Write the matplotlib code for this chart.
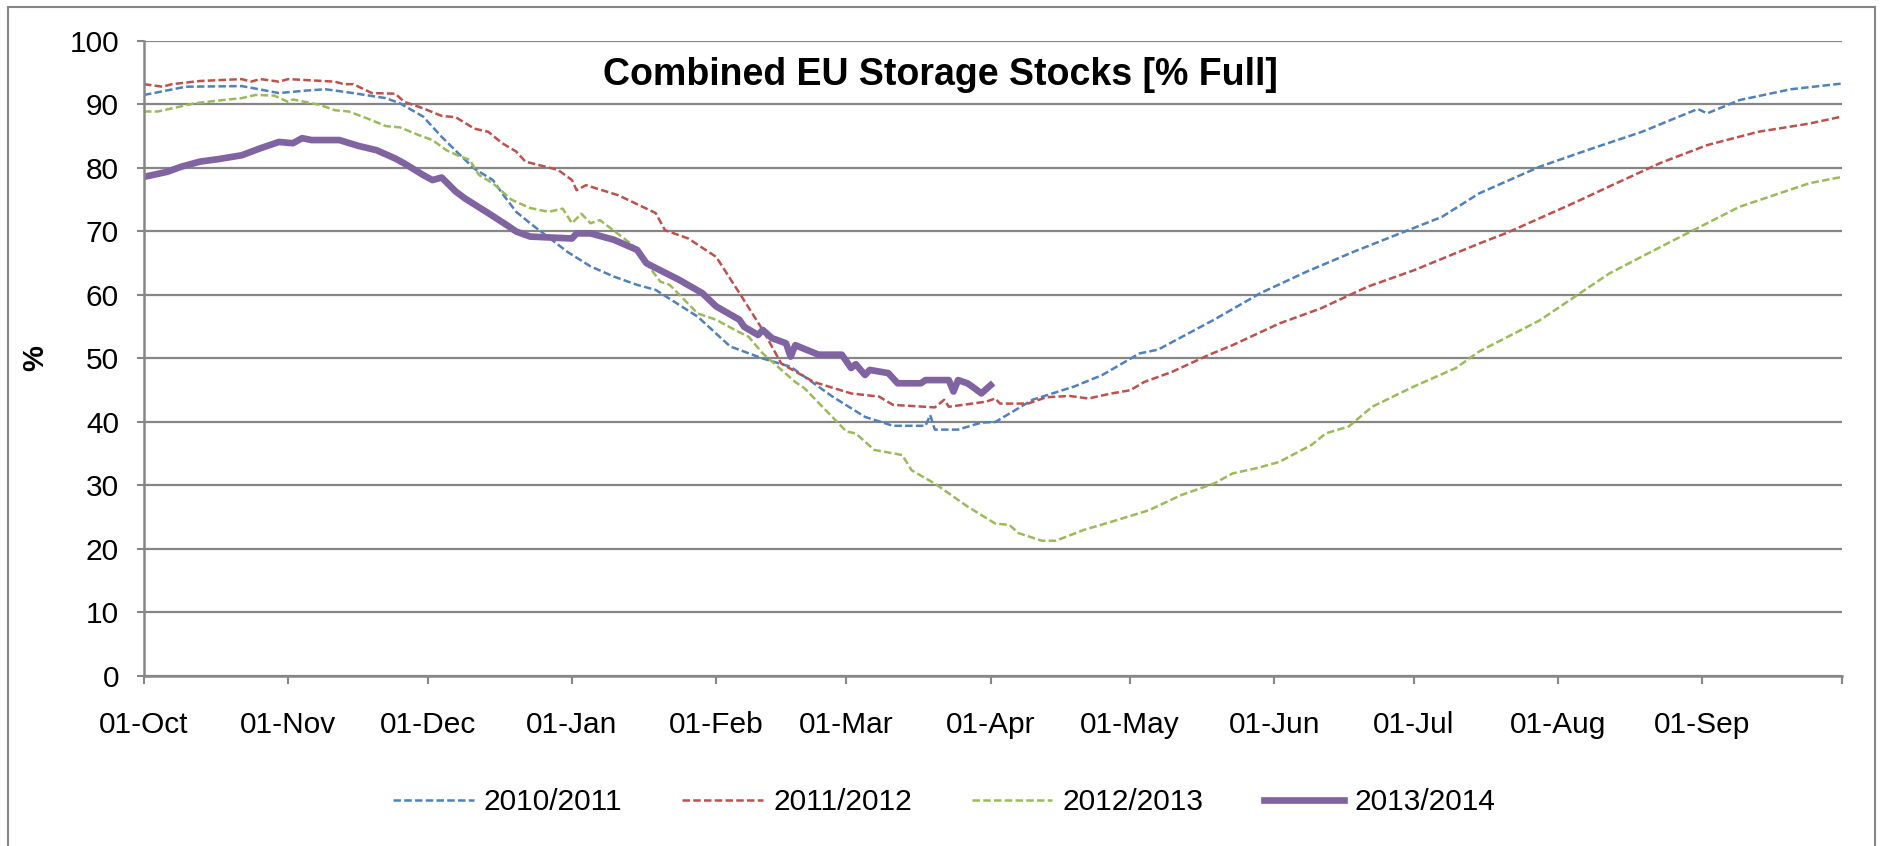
import matplotlib
matplotlib.use("Agg")
import matplotlib.pyplot as plt
from matplotlib.patches import Rectangle

plt.rcParams['font.family'] = ['Liberation Sans', 'DejaVu Sans']

# month axis (days counted from 01-Oct)
month_days = [0, 31, 61, 92, 123, 151, 182, 212, 243, 273, 304, 335]
month_labels = ['01-Oct', '01-Nov', '01-Dec', '01-Jan', '01-Feb', '01-Mar',
                '01-Apr', '01-May', '01-Jun', '01-Jul', '01-Aug', '01-Sep']
season_end = 365

# 2010/2011
days_1011 = [0, 9, 21, 24, 29, 35, 39, 44, 52, 55, 60, 64, 68, 71, 75, 77, 80, 83, 91, 96,
             101, 106, 110, 119, 126, 133, 139, 148, 155, 161, 168, 169, 170, 175, 180, 183,
             191, 200, 206, 214, 218, 230, 240, 250, 260, 270, 279, 287, 300, 311, 322, 334,
             336, 343, 354, 365]
vals_1011 = [91.5, 92.8, 92.9, 92.5, 91.8, 92.2, 92.4, 91.9, 91.0, 90.2, 88.1, 84.9, 82.0, 79.9,
             78.1, 76.0, 73.1, 71.3, 66.8, 64.5, 62.9, 61.6, 60.8, 56.6, 51.9, 50.0, 48.7, 44.0,
             40.8, 39.4, 39.4, 41.1, 38.8, 38.8, 39.9, 40.0, 43.5, 45.6, 47.4, 50.8, 51.4, 56.1,
             60.3, 63.7, 66.8, 69.7, 72.3, 76.0, 80.2, 83.0, 85.7, 89.3, 88.6, 90.7, 92.4, 93.3]

# 2011/2012
days_1112 = [0, 4, 6, 12, 21, 23, 25, 29, 31, 41, 43, 45, 49, 54, 56, 60, 64, 67, 71, 74,
             77, 80, 82, 89, 92, 93, 95, 102, 110, 112, 117, 123, 128, 133, 137, 144, 152, 158,
             161, 170, 172, 173, 181, 183, 184, 190, 194, 199, 203, 208, 212, 215, 221, 229,
             234, 244, 253, 263, 273, 280, 287, 293, 308, 315, 326, 336, 347, 358, 365]
vals_1112 = [93.2, 92.8, 93.2, 93.7, 94.0, 93.6, 94.0, 93.6, 94.0, 93.6, 93.2, 93.2, 91.8, 91.7,
             90.4, 89.4, 88.2, 88.0, 86.2, 85.7, 83.9, 82.6, 81.0, 79.7, 78.1, 76.5, 77.3, 75.7,
             72.9, 70.2, 68.9, 66.0, 60.3, 54.5, 49.2, 46.3, 44.5, 44.0, 42.7, 42.3, 43.5, 42.4,
             43.2, 43.7, 42.9, 42.9, 43.9, 44.1, 43.7, 44.5, 45.0, 46.3, 47.9, 50.6, 52.1, 55.5,
             57.9, 61.3, 63.9, 66.0, 68.1, 69.8, 74.7, 77.1, 80.8, 83.6, 85.7, 87.0, 88.1]

# 2012/2013
days_1213 = [0, 3, 11, 17, 21, 24, 28, 31, 32, 38, 41, 44, 48, 52, 55, 59, 62, 65, 68, 70,
             72, 75, 79, 83, 87, 90, 92, 94, 96, 98, 105, 111, 113, 119, 123, 127, 130, 133,
             140, 142, 151, 153, 157, 163, 165, 170, 177, 183, 186, 188, 193, 196, 202, 208,
             216, 223, 230, 234, 239, 244, 251, 254, 259, 264, 273, 282, 287, 300, 315, 329,
             343, 358, 365]
vals_1213 = [88.9, 88.9, 90.2, 90.7, 91.0, 91.5, 91.4, 90.4, 90.8, 89.9, 89.1, 88.9, 87.8, 86.6,
             86.4, 85.2, 84.4, 82.8, 81.8, 81.3, 78.9, 77.6, 75.0, 73.7, 73.1, 73.6, 71.3, 72.8,
             71.3, 71.8, 67.9, 62.1, 61.6, 57.1, 56.1, 54.5, 53.4, 50.8, 46.3, 45.3, 38.5, 38.2,
             35.6, 34.8, 32.4, 30.3, 26.7, 24.0, 23.8, 22.5, 21.3, 21.3, 23.0, 24.3, 26.1, 28.5,
             30.3, 31.9, 32.7, 33.7, 36.4, 38.2, 39.3, 42.4, 45.6, 48.5, 51.1, 56.0, 63.4, 68.7,
             73.9, 77.6, 78.6]

# 2013/2014
days_1314 = [0, 5, 8, 12, 16, 21, 25, 29, 32, 34, 36, 42, 46, 50, 54, 56, 60, 62, 64, 67,
             69, 74, 78, 80, 83, 92, 93, 96, 101, 106, 108, 115, 120, 123, 128, 129, 132, 133,
             135, 138, 139, 140, 145, 150, 152, 153, 155, 156, 160, 162, 167, 168, 173, 174,
             175, 177, 178, 180, 182]
vals_1314 = [78.6, 79.4, 80.2, 81.0, 81.4, 82.0, 83.1, 84.1, 83.9, 84.7, 84.4, 84.4, 83.5, 82.8,
             81.5, 80.7, 78.9, 78.1, 78.5, 76.3, 75.2, 72.9, 71.0, 70.0, 69.2, 68.9, 69.7, 69.7,
             68.7, 67.1, 65.0, 62.4, 60.3, 58.2, 56.1, 55.0, 53.7, 54.5, 53.2, 52.4, 50.3, 52.1,
             50.6, 50.6, 48.5, 49.1, 47.4, 48.2, 47.7, 46.1, 46.1, 46.6, 46.6, 44.8, 46.6, 46.1,
             45.6, 44.5, 45.8]

grey = '#868686'

fig = plt.figure(figsize=(18.81, 8.46), dpi=100)
fig.patches.append(Rectangle((0.004, -0.01), 0.993, 1.002, transform=fig.transFigure,
                             fill=False, edgecolor=grey, linewidth=1.5))

ax = fig.add_axes([0.07655, 0.20095, 0.90271, 0.75059])

ax.plot(days_1011, vals_1011, color='#4F81BD', lw=1.8, dashes=(3.0, 1.3), label='2010/2011')
ax.plot(days_1112, vals_1112, color='#C0504D', lw=1.8, dashes=(3.0, 1.3), label='2011/2012')
ax.plot(days_1213, vals_1213, color='#9BBB59', lw=1.8, dashes=(3.0, 1.3), label='2012/2013')
ax.plot(days_1314, vals_1314, color='#8064A2', lw=4.8, solid_joinstyle='round', label='2013/2014')

ax.set_xlim(0, season_end)
ax.set_ylim(0, 100)
ax.set_yticks(range(0, 101, 10))
ax.set_xticks(month_days + [season_end])
ax.set_xticklabels(month_labels + [''])

ax.grid(axis='y', color=grey, lw=1.6)
ax.set_axisbelow(True)
for side in ['top', 'right']:
    ax.spines[side].set_visible(False)
for side in ['left', 'bottom']:
    ax.spines[side].set_color(grey)
    ax.spines[side].set_linewidth(1.8)

ax.tick_params(axis='y', length=5, width=1.5, color=grey, pad=13, labelsize=21.5)
ax.tick_params(axis='x', length=6, width=1.5, color=grey, pad=19, labelsize=21.5)

fig.text(0.5, 0.911, 'Combined EU Storage Stocks [% Full]', ha='center', va='center',
         fontsize=27, fontweight='bold')
fig.text(0.019, 0.5768, '%', rotation=90, ha='center', va='center', fontsize=21,
         fontweight='bold')

fig.legend(loc='center', bbox_to_anchor=(0.502, 0.052), ncol=4, frameon=False, fontsize=21.5,
           handlelength=2.7, handletextpad=0.35, columnspacing=2.0)

fig.savefig('out.png', dpi=100)
